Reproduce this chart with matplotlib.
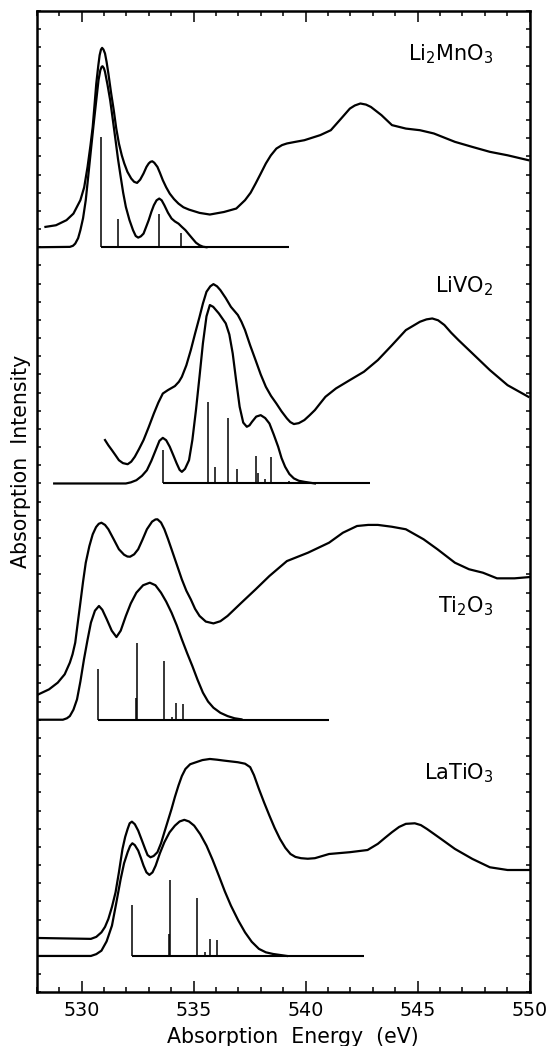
import numpy as np
import matplotlib
matplotlib.use("Agg")
import matplotlib.pyplot as plt
from matplotlib.ticker import MultipleLocator

plt.rcParams['font.family'] = ['DejaVu Sans']
plt.rcParams['mathtext.default'] = 'regular'

# ---------------- data (energy in eV, intensity relative to each baseline) -------------
offsets = [41, 28, 15, 2]
names = ['Li$_2$MnO$_3$', 'LiVO$_2$', 'Ti$_2$O$_3$', 'LaTiO$_3$']
label_y = [51.3, 38.5, 20.9, 11.7]
x_ticks = [530, 535, 540, 545, 550]

# Li2MnO3 : measured spectrum (energy, intensity)
limn_exp = [(528.39, 1.12), (528.86, 1.21), (529.33, 1.49), (529.64, 1.85), (529.95, 2.59),
            (530.12, 3.3), (530.27, 4.42), (530.40, 5.6), (530.50, 6.62), (530.58, 7.8),
            (530.66, 9.01), (530.75, 10.0), (530.81, 10.57), (530.87, 10.88), (530.92, 10.97),
            (530.98, 10.88), (531.05, 10.66), (531.12, 10.2), (531.20, 9.56), (531.32, 8.5),
            (531.44, 7.54), (531.55, 6.55), (531.67, 5.71), (531.80, 5.05), (531.91, 4.61),
            (532.05, 4.15), (532.22, 3.78), (532.35, 3.6), (532.48, 3.54), (532.62, 3.72),
            (532.77, 4.06), (532.90, 4.42), (533.00, 4.61), (533.08, 4.70), (533.16, 4.73),
            (533.25, 4.65), (533.39, 4.42), (533.50, 4.1), (533.63, 3.69), (533.78, 3.3),
            (533.94, 2.95), (534.13, 2.65), (534.33, 2.40), (534.55, 2.2), (534.80, 2.07),
            (535.27, 1.89), (535.73, 1.80), (536.36, 1.94), (536.91, 2.13), (537.30, 2.59),
            (537.55, 3.0), (537.77, 3.50), (538.00, 4.05), (538.23, 4.61), (538.45, 5.05),
            (538.70, 5.43), (538.95, 5.62), (539.17, 5.71), (539.55, 5.80), (539.95, 5.89),
            (540.66, 6.17), (541.13, 6.44), (541.59, 7.08), (541.98, 7.63), (542.20, 7.8),
            (542.45, 7.91), (542.70, 7.85), (542.92, 7.72), (543.39, 7.27), (543.86, 6.72),
            (544.48, 6.53), (545.11, 6.44), (545.73, 6.26), (546.67, 5.80), (547.45, 5.52),
            (548.23, 5.25), (549.02, 5.06), (549.95, 4.79)]
# Li2MnO3 : calculated spectrum
limn_th = [(528.0, 0), (529.48, 0.02), (529.62, 0.08), (529.72, 0.20), (529.85, 0.5),
           (529.95, 0.94), (530.07, 1.6), (530.19, 2.59), (530.30, 3.9), (530.42, 5.34),
           (530.54, 6.75), (530.66, 8.09), (530.76, 9.2), (530.84, 9.74), (530.90, 9.93),
           (530.94, 9.96), (531.0, 9.85), (531.05, 9.65), (531.16, 8.95), (531.28, 8.09),
           (531.40, 7.0), (531.52, 5.89), (531.63, 4.85), (531.75, 3.87), (531.86, 3.0),
           (531.98, 2.22), (532.14, 1.5), (532.30, 0.94), (532.42, 0.62), (532.53, 0.53),
           (532.65, 0.6), (532.77, 0.75), (532.88, 1.1), (533.00, 1.49), (533.12, 1.95),
           (533.23, 2.31), (533.35, 2.58), (533.47, 2.68), (533.58, 2.58), (533.70, 2.31),
           (533.86, 1.9), (534.02, 1.58), (534.17, 1.42), (534.33, 1.30), (534.48, 1.12),
           (534.64, 0.94), (534.80, 0.7), (534.95, 0.48), (535.11, 0.25), (535.27, 0.11),
           (535.42, 0.03), (535.58, 0)]
limn_stick_x = [530.89, 531.64, 533.47, 534.44]
limn_stick_h = [6.07, 1.58, 1.85, 0.81]
limn_base_end = 539.25

# LiVO2
livo_exp = [(531.05, 2.39), (531.20, 2.1), (531.36, 1.83), (531.52, 1.55), (531.67, 1.28),
            (531.85, 1.12), (532.06, 1.06), (532.22, 1.2), (532.38, 1.47), (532.57, 1.9),
            (532.77, 2.39), (533.0, 3.1), (533.23, 3.85), (533.43, 4.45), (533.63, 4.95),
            (533.86, 5.14), (534.17, 5.36), (534.35, 5.6), (534.48, 5.87), (534.68, 6.5),
            (534.88, 7.34), (535.07, 8.25), (535.27, 9.17), (535.42, 9.9), (535.58, 10.55),
            (535.75, 10.85), (535.89, 10.97), (536.05, 10.85), (536.20, 10.64), (536.44, 10.2),
            (536.67, 9.72), (536.98, 9.27), (537.14, 8.9), (537.30, 8.44), (537.53, 7.6),
            (537.77, 6.79), (538.0, 6.0), (538.23, 5.32), (538.46, 4.82), (538.70, 4.40),
            (538.93, 3.97), (539.17, 3.58), (539.32, 3.38), (539.48, 3.27), (539.70, 3.32),
            (539.95, 3.49), (540.18, 3.75), (540.42, 4.04), (540.65, 4.4), (540.89, 4.77),
            (541.36, 5.23), (541.98, 5.69), (542.61, 6.15), (543.23, 6.79), (543.86, 7.61),
            (544.48, 8.44), (545.11, 8.90), (545.40, 9.03), (545.66, 9.08), (545.92, 8.98),
            (546.20, 8.72), (546.50, 8.3), (546.83, 7.89), (547.45, 7.16), (548.23, 6.24),
            (549.02, 5.41), (549.95, 4.77)]
livo_th = [(528.78, 0), (531.98, 0), (532.20, 0.06), (532.45, 0.18), (532.70, 0.42),
           (532.92, 0.73), (533.12, 1.25), (533.31, 1.83), (533.48, 2.35), (533.63, 2.51),
           (533.78, 2.38), (533.94, 2.02), (534.10, 1.55), (534.25, 1.10), (534.38, 0.75),
           (534.48, 0.64), (534.62, 0.8), (534.80, 1.28), (534.95, 2.4), (535.11, 4.04),
           (535.27, 5.9), (535.42, 7.71), (535.58, 9.2), (535.73, 9.82), (535.88, 9.72),
           (536.13, 9.36), (536.44, 8.81), (536.60, 8.2), (536.75, 7.16), (536.90, 5.7),
           (537.06, 4.22), (537.22, 3.35), (537.38, 3.12), (537.50, 3.2), (537.61, 3.39),
           (537.80, 3.68), (538.00, 3.76), (538.20, 3.6), (538.39, 3.30), (538.58, 2.7),
           (538.78, 2.02), (538.93, 1.4), (539.09, 0.92), (539.28, 0.52), (539.48, 0.28),
           (539.70, 0.15), (539.95, 0.09), (540.42, 0)]
livo_stick_x = [533.66, 535.63, 535.97, 536.52, 536.95, 537.80, 537.89, 538.19, 538.48, 539.25]
livo_stick_h = [1.83, 4.50, 0.92, 3.58, 0.77, 1.50, 0.55, 0.22, 1.43, 0.13]
livo_base_end = 542.89

# Ti2O3
tio_exp = [(528.0, 1.35), (528.55, 1.67), (528.94, 2.04), (529.25, 2.50), (529.48, 3.14),
           (529.60, 3.6), (529.72, 4.24), (529.83, 5.3), (529.95, 6.44), (530.07, 7.6),
           (530.19, 8.64), (530.35, 9.55), (530.50, 10.20), (530.65, 10.6), (530.77, 10.78),
           (530.89, 10.84), (531.05, 10.72), (531.20, 10.48), (531.45, 9.9), (531.67, 9.38),
           (531.90, 9.08), (532.05, 8.98), (532.17, 8.97), (532.35, 9.1), (532.53, 9.38),
           (532.72, 9.9), (532.92, 10.48), (533.15, 10.9), (533.30, 11.02), (533.39, 11.03),
           (533.55, 10.85), (533.70, 10.48), (533.86, 9.95), (534.02, 9.38), (534.25, 8.55),
           (534.48, 7.72), (534.68, 7.1), (534.88, 6.62), (535.07, 6.1), (535.27, 5.71),
           (535.55, 5.4), (535.89, 5.30), (536.20, 5.42), (536.52, 5.71), (537.14, 6.44),
           (537.77, 7.17), (538.39, 7.91), (539.17, 8.73), (540.11, 9.19), (541.05, 9.74),
           (541.67, 10.29), (542.30, 10.66), (542.80, 10.72), (543.23, 10.72), (543.85, 10.62),
           (544.48, 10.48), (545.27, 9.93), (545.89, 9.38), (546.67, 8.64), (547.30, 8.28),
           (547.92, 8.09), (548.55, 7.78), (549.33, 7.78), (550.0, 7.85)]
tio_th = [(528.0, 0), (529.17, 0), (529.35, 0.08), (529.48, 0.20), (529.64, 0.55),
          (529.80, 1.12), (529.95, 2.1), (530.11, 3.32), (530.27, 4.4), (530.42, 5.34),
          (530.60, 6.0), (530.78, 6.26), (530.93, 6.05), (531.13, 5.52), (531.35, 4.9),
          (531.56, 4.55), (531.75, 4.9), (531.98, 5.71), (532.20, 6.4), (532.45, 6.99),
          (532.75, 7.4), (533.05, 7.54), (533.30, 7.4), (533.55, 6.99), (533.78, 6.5),
          (534.02, 5.89), (534.25, 5.2), (534.48, 4.42), (534.72, 3.65), (534.95, 2.95),
          (535.18, 2.2), (535.42, 1.49), (535.65, 1.0), (535.89, 0.66), (536.20, 0.38),
          (536.52, 0.20), (536.83, 0.08), (537.14, 0.02)]
tio_stick_x = [530.73, 532.42, 532.47, 533.67, 534.02, 534.22, 534.53]
tio_stick_h = [2.81, 1.21, 4.24, 3.23, 0.17, 0.94, 0.88]
tio_base_end = 541.05

# LaTiO3
lat_exp = [(528.0, 0.99), (530.42, 0.94), (530.66, 1.05), (530.89, 1.30), (531.05, 1.6),
           (531.20, 2.04), (531.36, 2.7), (531.52, 3.50), (531.67, 4.6), (531.83, 5.89),
           (531.95, 6.55), (532.06, 6.99), (532.15, 7.3), (532.25, 7.39), (532.38, 7.25),
           (532.53, 6.90), (532.70, 6.35), (532.84, 5.89), (532.95, 5.55), (533.08, 5.43),
           (533.22, 5.5), (533.39, 5.71), (533.55, 6.2), (533.70, 6.81), (533.86, 7.45),
           (534.02, 8.09), (534.17, 8.75), (534.33, 9.38), (534.48, 9.9), (534.64, 10.29),
           (534.85, 10.55), (535.11, 10.66), (535.40, 10.78), (535.73, 10.84), (536.05, 10.8),
           (536.36, 10.75), (536.98, 10.66), (537.30, 10.58), (537.53, 10.39), (537.70, 9.95),
           (537.92, 9.19), (538.15, 8.45), (538.39, 7.72), (538.62, 7.05), (538.86, 6.44),
           (539.10, 5.95), (539.33, 5.61), (539.55, 5.45), (539.80, 5.38), (540.10, 5.35),
           (540.42, 5.38), (541.05, 5.61), (541.98, 5.71), (542.77, 5.83), (543.23, 6.17),
           (543.55, 6.5), (543.86, 6.81), (544.18, 7.1), (544.48, 7.27), (544.88, 7.30),
           (545.15, 7.2), (545.42, 6.99), (545.73, 6.72), (546.05, 6.44), (546.67, 5.89),
           (547.45, 5.34), (548.23, 4.88), (549.02, 4.73), (550.0, 4.73)]
lat_th = [(528.0, 0), (530.42, 0), (530.66, 0.1), (530.89, 0.29), (531.12, 0.8),
          (531.36, 1.67), (531.55, 2.9), (531.75, 4.24), (531.90, 5.1), (532.06, 5.71),
          (532.17, 6.05), (532.27, 6.20), (532.38, 6.1), (532.53, 5.80), (532.65, 5.4),
          (532.77, 4.97), (532.90, 4.6), (533.03, 4.46), (533.17, 4.6), (533.31, 4.97),
          (533.50, 5.65), (533.70, 6.26), (533.93, 6.8), (534.17, 7.17), (534.38, 7.4),
          (534.59, 7.49), (534.80, 7.4), (535.03, 7.17), (535.30, 6.7), (535.58, 6.07),
          (535.85, 5.3), (536.13, 4.42), (536.40, 3.55), (536.67, 2.77), (537.00, 1.95),
          (537.30, 1.30), (537.60, 0.78), (537.92, 0.39), (538.23, 0.2), (538.55, 0.11),
          (539.17, 0)]
lat_stick_x = [532.25, 533.91, 533.97, 535.16, 535.53, 535.73, 536.03]
lat_stick_h = [2.83, 1.21, 4.20, 3.19, 0.20, 0.94, 0.88]
lat_base_end = 542.61

# ---------------- figure ----------------
fig = plt.figure(figsize=(5.48, 10.46), dpi=100)
ax = fig.add_axes([36.7 / 548, 53.7 / 1046, (529.5 - 36.7) / 548, (992.3 - 11) / 1046])

spectra = [
    (limn_exp, limn_th, limn_stick_x, limn_stick_h, limn_base_end),
    (livo_exp, livo_th, livo_stick_x, livo_stick_h, livo_base_end),
    (tio_exp, tio_th, tio_stick_x, tio_stick_h, tio_base_end),
    (lat_exp, lat_th, lat_stick_x, lat_stick_h, lat_base_end),
]

for (exp, th, sx, sh, bend), off, name, ly in zip(spectra, offsets, names, label_y):
    ex, ey = np.array(exp).T
    tx, ty = np.array(th).T
    ax.plot(ex, ey + off, color='black', lw=1.6, solid_joinstyle='round')
    ax.plot(tx, ty + off, color='black', lw=1.6, solid_joinstyle='round')
    ax.hlines(off, sx[0], bend, color='black', lw=1.5)
    ax.vlines(sx, off, np.array(sh) + off, color='black', lw=1.1)
    ax.text(548.4, ly, name, ha='right', va='baseline', fontsize=15)

ax.set_xlim(528, 550)
ax.set_ylim(0, 54)
ax.set_xticks(x_ticks)
ax.xaxis.set_minor_locator(MultipleLocator(1))
ax.yaxis.set_major_locator(MultipleLocator(1))
ax.set_yticklabels([])
ax.tick_params(axis='x', which='major', direction='in', length=7.9, width=1.1,
               top=True, bottom=True, labelsize=13.8, pad=6)
ax.tick_params(axis='x', which='minor', direction='in', length=3.6, width=1.1,
               top=True, bottom=True)
ax.tick_params(axis='y', which='major', direction='in', length=3.2, width=1.1,
               left=True, right=True, labelleft=False)
for sp in ax.spines.values():
    sp.set_linewidth(1.8)

fig.text(292.5 / 548, 1 - 1043 / 1046, 'Absorption  Energy  (eV)', ha='center',
         va='baseline', fontsize=14.8)
fig.text(21 / 548, 1 - 461 / 1046, 'Absorption  Intensity', ha='center', va='center',
         rotation=90, fontsize=14.8)

fig.savefig('out.png', dpi=100)
